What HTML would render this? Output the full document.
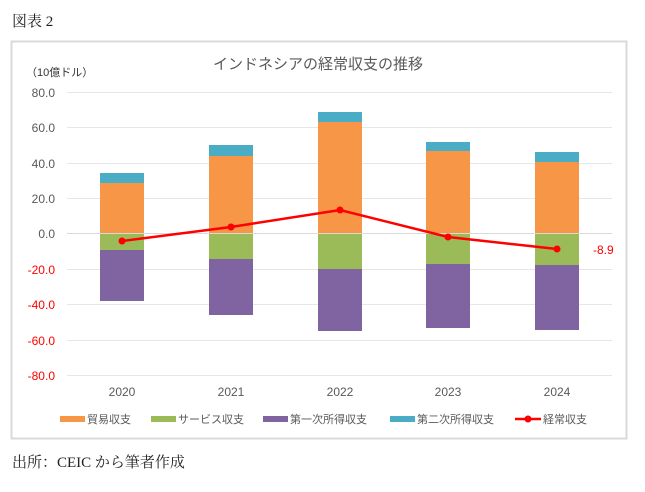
<!DOCTYPE html>
<html><head><meta charset="utf-8"><style>
body{margin:0;background:#fff;width:645px;height:487px;overflow:hidden}
text{font-family:"Liberation Sans","Noto Sans CJK JP",sans-serif}
</style></head><body>
<svg width="645" height="487" xmlns="http://www.w3.org/2000/svg">
<text x="12" y="26" font-size="15" fill="#222" style="font-family:'Liberation Serif','Noto Serif CJK SC',serif">図表 2</text>
<rect x="11.5" y="41.5" width="615" height="397" fill="#fff" stroke="#d9d9d9" stroke-width="2"/>
<text x="318" y="69" font-size="15" fill="#595959" text-anchor="middle">インドネシアの経常収支の推移</text>
<text x="26" y="76" font-size="11" fill="#333">（10億ドル）</text>
<g stroke="#e6e6e6" stroke-width="1">
<line x1="67" x2="612" y1="92.5" y2="92.5"/><line x1="67" x2="612" y1="127.5" y2="127.5"/><line x1="67" x2="612" y1="163.5" y2="163.5"/><line x1="67" x2="612" y1="198.5" y2="198.5"/>
<line x1="67" x2="612" y1="269.5" y2="269.5"/><line x1="67" x2="612" y1="304.5" y2="304.5"/><line x1="67" x2="612" y1="340.5" y2="340.5"/><line x1="67" x2="612" y1="375.5" y2="375.5"/>
</g>
<g font-size="12" fill="#595959" text-anchor="end">
<text x="55" y="97">80.0</text><text x="55" y="132">60.0</text><text x="55" y="168">40.0</text><text x="55" y="203">20.0</text><text x="55" y="238">0.0</text>
</g>
<g font-size="12" fill="#ff0000" text-anchor="end">
<text x="55" y="274">-20.0</text><text x="55" y="309">-40.0</text><text x="55" y="345">-60.0</text><text x="55" y="380">-80.0</text>
</g>
<g>
<!-- 2020 -->
<rect x="100" y="173" width="44" height="10" fill="#4bacc6"/><rect x="100" y="183" width="44" height="50.5" fill="#f79646"/>
<rect x="100" y="233.5" width="44" height="16.5" fill="#9bbb59"/><rect x="100" y="250" width="44" height="51" fill="#8064a2"/>
<!-- 2021 -->
<rect x="209" y="145" width="44" height="11" fill="#4bacc6"/><rect x="209" y="156" width="44" height="77.5" fill="#f79646"/>
<rect x="209" y="233.5" width="44" height="25.5" fill="#9bbb59"/><rect x="209" y="259" width="44" height="56" fill="#8064a2"/>
<!-- 2022 -->
<rect x="318" y="112" width="44" height="10" fill="#4bacc6"/><rect x="318" y="122" width="44" height="111.5" fill="#f79646"/>
<rect x="318" y="233.5" width="44" height="35.5" fill="#9bbb59"/><rect x="318" y="269" width="44" height="62" fill="#8064a2"/>
<!-- 2023 -->
<rect x="426" y="142" width="44" height="9" fill="#4bacc6"/><rect x="426" y="151" width="44" height="82.5" fill="#f79646"/>
<rect x="426" y="233.5" width="44" height="30.5" fill="#9bbb59"/><rect x="426" y="264" width="44" height="64" fill="#8064a2"/>
<!-- 2024 -->
<rect x="535" y="152" width="44" height="10" fill="#4bacc6"/><rect x="535" y="162" width="44" height="71.5" fill="#f79646"/>
<rect x="535" y="233.5" width="44" height="31.5" fill="#9bbb59"/><rect x="535" y="265" width="44" height="65" fill="#8064a2"/>
</g>
<line x1="67" x2="612" y1="233.5" y2="233.5" stroke="#d9d9d9"/>
<polyline points="122,241 231,227 340,210 448,237 557,249" fill="none" stroke="#ff0000" stroke-width="2.5"/>
<g fill="#ff0000"><circle cx="122" cy="241" r="3.5"/><circle cx="231" cy="227" r="3.5"/><circle cx="340" cy="210" r="3.5"/><circle cx="448" cy="237" r="3.5"/><circle cx="557" cy="249" r="3.5"/></g>
<text x="593" y="254" font-size="12" fill="#ff0000">-8.9</text>
<g font-size="12" fill="#595959" text-anchor="middle">
<text x="122" y="396">2020</text><text x="231" y="396">2021</text><text x="340" y="396">2022</text><text x="448" y="396">2023</text><text x="557" y="396">2024</text>
</g>
<g font-size="11" fill="#595959">
<rect x="60" y="416" width="25" height="6" fill="#f79646"/><text x="87" y="423">貿易収支</text>
<rect x="151" y="416" width="25" height="6" fill="#9bbb59"/><text x="178" y="423">サービス収支</text>
<rect x="263" y="416" width="25" height="6" fill="#8064a2"/><text x="290" y="423">第一次所得収支</text>
<rect x="390" y="416" width="25" height="6" fill="#4bacc6"/><text x="417" y="423">第二次所得収支</text>
<line x1="515" x2="541" y1="419" y2="419" stroke="#ff0000" stroke-width="2.5"/><circle cx="528" cy="419" r="3.5" fill="#ff0000"/><text x="543" y="423">経常収支</text>
</g>
<text x="12" y="467" font-size="15" fill="#222" style="font-family:'Liberation Serif','Noto Serif CJK SC',serif">出所：CEIC から筆者作成</text>
</svg>
</body></html>
